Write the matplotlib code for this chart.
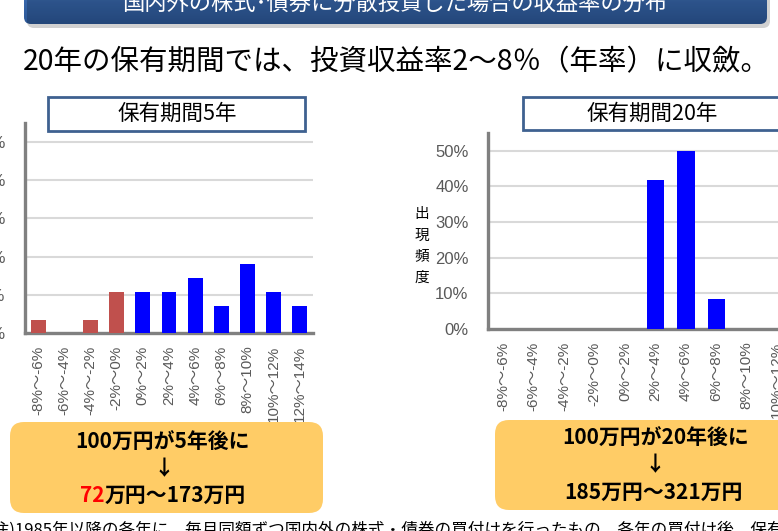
import matplotlib
matplotlib.use('Agg')
import matplotlib.pyplot as plt
from matplotlib.patches import FancyBboxPatch, Rectangle
from matplotlib.colors import LinearSegmentedColormap
import numpy as np

plt.rcParams['font.family'] = ['Liberation Sans', 'Noto Sans CJK JP']
JP = ['Noto Sans CJK JP', 'DejaVu Sans']

# data
categories = ['-8%～-6%', '-6%～-4%', '-4%～-2%', '-2%～0%', '0%～2%', '2%～4%',
              '4%～6%', '6%～8%', '8%～10%', '10%～12%', '12%～14%']
freq_5y = [3.5, 0, 3.5, 10.7, 10.7, 10.7, 14.4, 7.1, 18.0, 10.7, 7.1]
freq_20y = [0, 0, 0, 0, 0, 41.7, 50.0, 8.3, 0, 0, 0]
yticks = [0, 10, 20, 30, 40, 50]
ytick_labels = ['0%', '10%', '20%', '30%', '40%', '50%']

bar_colors = ['#C0504D' if c.startswith('-') else '#0000FF' for c in categories]

W, H = 778, 531
fig = plt.figure(figsize=(W / 100, H / 100), dpi=100)


def px_axes(x0, y0, x1, y1):
    # axes placed with pixel coords (top-left origin)
    return fig.add_axes([x0 / W, 1 - y1 / H, (x1 - x0) / W, (y1 - y0) / H])


def draw_hist(ax, values):
    x = np.arange(len(categories))
    ax.bar(x, values, width=0.57, color=bar_colors, zorder=3)
    ax.set_xlim(-0.5, len(categories) - 0.5)
    ax.set_ylim(0, 55)
    ax.set_yticks(yticks)
    ax.set_yticklabels(ytick_labels)
    ax.set_xticks(x)
    ax.set_xticklabels(categories, rotation=90)
    ax.tick_params(axis='both', length=0, colors='#595959')
    ax.tick_params(axis='x', labelsize=11, pad=9)
    ax.tick_params(axis='y', labelsize=12, pad=14)
    ax.yaxis.grid(True, color='#D9D9D9', lw=1.5, zorder=0)
    ax.set_axisbelow(True)
    for s in ['top', 'right']:
        ax.spines[s].set_visible(False)
    for s in ['left', 'bottom']:
        ax.spines[s].set_color('#808080')
        ax.spines[s].set_linewidth(2.4)
    ax.patch.set_alpha(0)


ax1 = px_axes(25, 123, 313, 333)
draw_hist(ax1, freq_5y)
ax2 = px_axes(488, 133, 823, 329)
draw_hist(ax2, freq_20y)

# overlay in pixel coords
ov = fig.add_axes([0, 0, 1, 1])
ov.axis('off')
ov.patch.set_alpha(0)

# top banner
ov.add_patch(FancyBboxPatch((27, -20), 743, 48, boxstyle='round,pad=0,rounding_size=7',
                            fc='#000000', ec='none', alpha=0.18))
clip = FancyBboxPatch((24, -20), 743, 44, boxstyle='round,pad=0,rounding_size=7',
                      fc='none', ec='none')
ov.add_patch(clip)
grad = np.linspace(0, 1, 60).reshape(-1, 1)
cmap = LinearSegmentedColormap.from_list('banner', ['#5585C8', '#3766AA', '#2C5796'])
im = ov.imshow(grad, extent=[24, 767, 24, -20], cmap=cmap, aspect='auto')
im.set_clip_path(clip)
ov.text(395, 4, '国内外の株式･債券に分散投資した場合の収益率の分布', color='white',
        fontsize=16, ha='center', va='center', family=JP)

ov.text(396, 62, '20年の保有期間では、投資収益率2～8％（年率）に収斂。', color='black',
        fontsize=20.5, ha='center', va='center', family=JP)

# chart titles
ov.add_patch(Rectangle((48, 97), 257, 34, fc='white', ec='#3F6190', lw=2))
ov.text(177, 114, '保有期間5年', fontsize=15.5, ha='center', va='center', family=JP)
ov.add_patch(Rectangle((523, 97), 280, 33, fc='white', ec='#3F6190', lw=2))
ov.text(652, 113.5, '保有期間20年', fontsize=15.5, ha='center', va='center', family=JP)

# y label
ov.text(422, 246, '出\n現\n頻\n度', fontsize=10.5, ha='center', va='center',
        linespacing=1.65, family=JP)

# result boxes
ov.add_patch(FancyBboxPatch((10, 422), 313, 91, boxstyle='round,pad=0,rounding_size=14',
                            fc='#FFCC66', ec='none'))
ov.add_patch(FancyBboxPatch((495, 420), 310, 90, boxstyle='round,pad=0,rounding_size=14',
                            fc='#FFCC66', ec='none'))

bold = dict(fontsize=15, fontweight='bold', family=JP, va='center')
ov.text(163, 442, '100万円が5年後に', ha='center', **bold)
ov.text(164, 469, '↓', ha='center', **bold)
ov.text(656, 438, '100万円が20年後に', ha='center', **bold)
ov.text(655, 465, '↓', ha='center', **bold)
ov.text(654, 492, '185万円～321万円', ha='center', **bold)

ov.set_xlim(0, W)
ov.set_ylim(H, 0)

# line with red "72"
r = fig.canvas.get_renderer()
t_all = ov.text(0, 0, '72万円～173万円', ha='left', **bold)
t_red = ov.text(0, 0, '72', ha='left', **bold)
w_all = t_all.get_window_extent(renderer=r).width
w_red = t_red.get_window_extent(renderer=r).width
t_all.remove()
t_red.remove()
x0 = 163 - w_all / 2
ov.text(x0, 495, '72', ha='left', color='#FF0000', **bold)
ov.text(x0 + w_red, 495, '万円～173万円', ha='left', **bold)

# footnote (cut at the bottom)
ov.text(-13, 521, '(注)1985年以降の各年に、毎月同額ずつ国内外の株式・債券の買付けを行ったもの。'
        '各年の買付け後、保有期間を経過した時点での時価額', fontsize=12, ha='left', va='top',
        family=JP)

ov.set_xlim(0, W)
ov.set_ylim(H, 0)

fig.savefig('out.png', dpi=100)
